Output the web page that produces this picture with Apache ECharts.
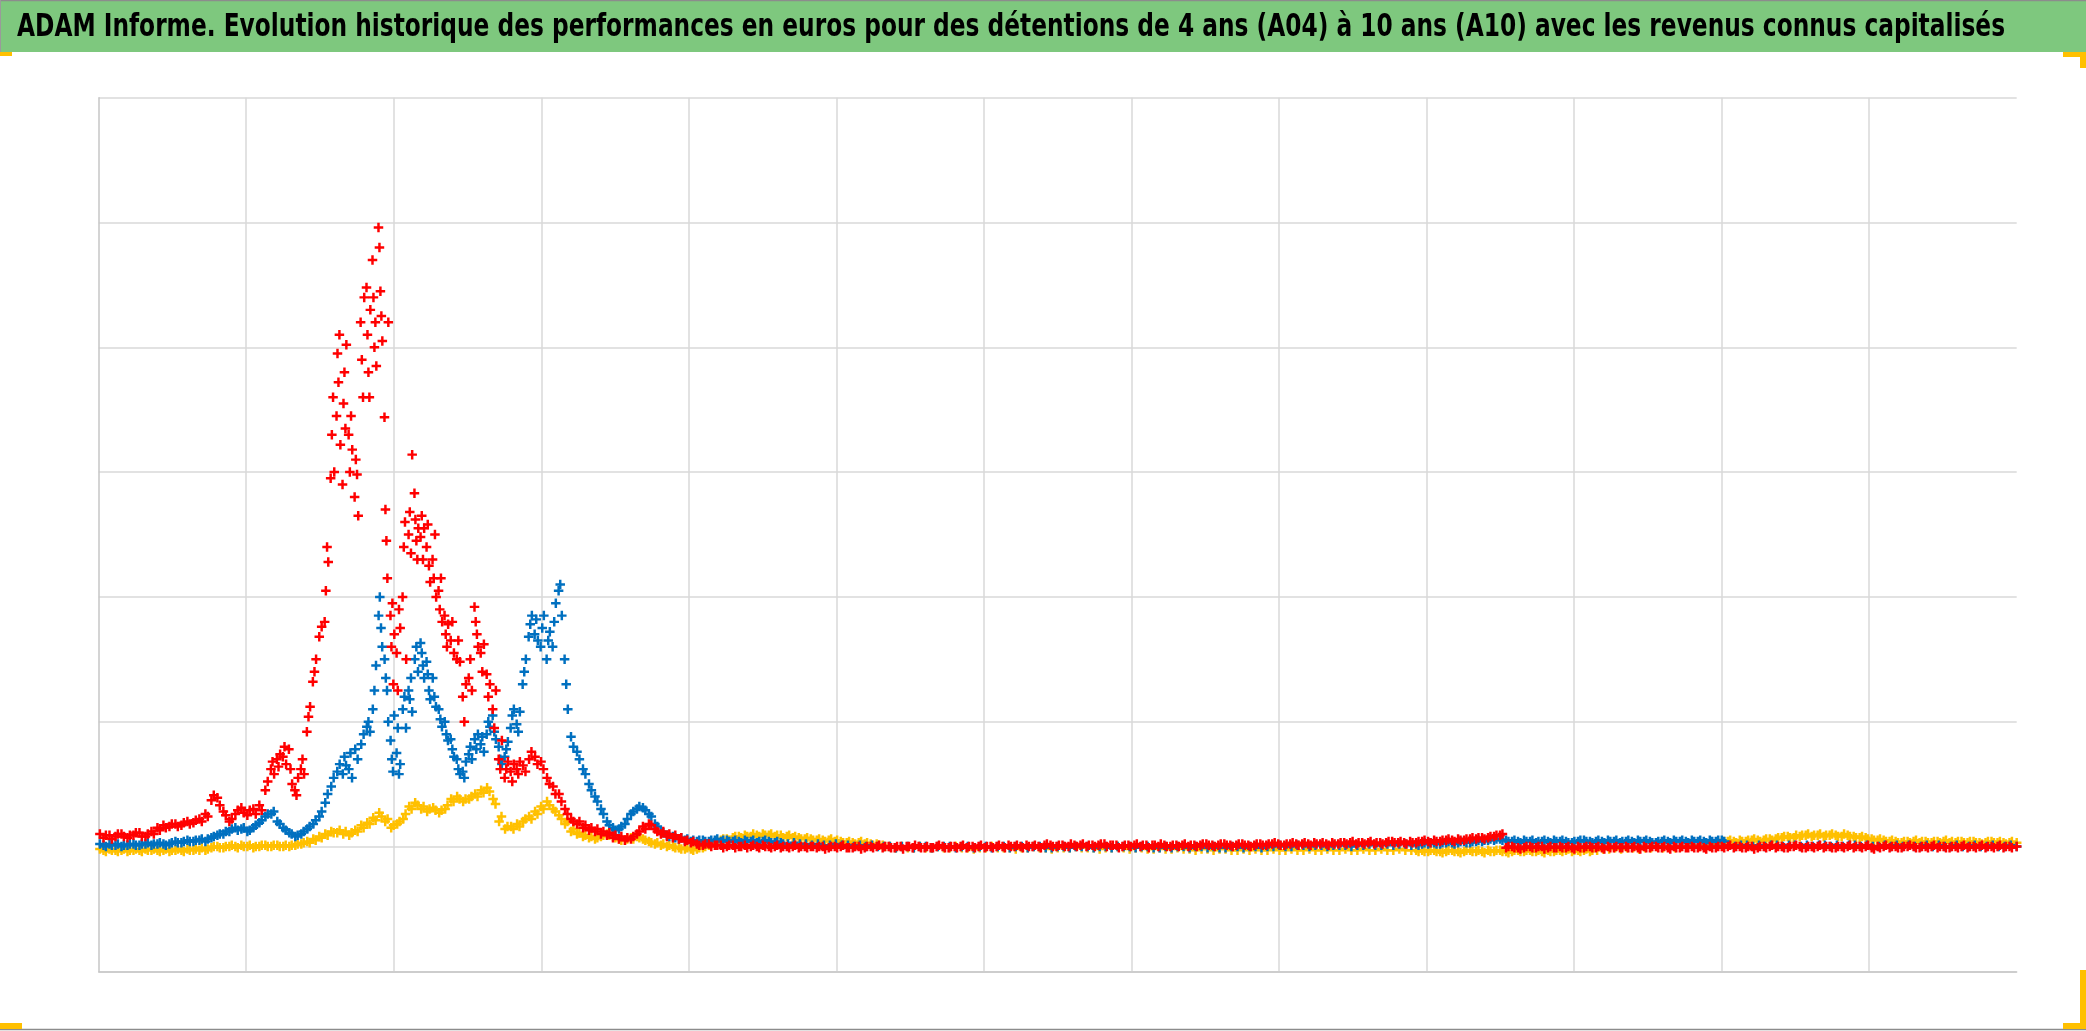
<!DOCTYPE html>
<html><head><meta charset="utf-8">
<script src="https://cdn.jsdelivr.net/npm/echarts@6/dist/echarts.min.js"></script>
<style>html,body{margin:0;padding:0;background:#fff;overflow:hidden}#c{width:2086px;height:1031px}</style>
</head><body><div id="c"></div>
<script>
const titleText = "ADAM Informe. Evolution historique des performances en euros pour des détentions de 4 ans (A04) à 10 ans (A10) avec les revenus connus capitalisés";
const seriesNames = ["A04", "A07", "A10"];
const yMin = -100, yMax = 600, yStep = 100;
const lastSample = 320;
const xGridSteps = 13;

// one entry per sample period; an inner list = several observations inside that period
const yellow = [
 [-3,-2],[-3,-4],[-2,-3],[-3,-4],[-3,-2],[-4,-3],[-3,-2],[-3,-4],[-2,-3],[-3,-2],
 [-3,-4],[-3,-2],[-4,-3],[-3,-2],[-3,-4],[-2,-3],[-3,-2],[-3,-1],[-3,-2],[-1,0],
 [0,-1],[-1,0],[0,1],[0,-1],[1,0],[0,1],[-1,0],[0,1],[1,0],[0,1],
 [1,0],[0,1],[0,1],[1,2],[2,3],[4,3],[6,5],[8,7],[10,9],[12,11],
 [11,13],[10,12],[9,11],[13,12],[17,15],[19,18],[23,21],[27,24],[20,22],[15,17],
 [18,20],[22,26],[32,30],[35,33],[30,32],[28,30],[31,29],[27,29],[30,33],[38,36],
 [40,38],[36,38],[38,40],[42,40],[45,43],[47,44],[38,34],[20,24],[14,16],[16,14],
 [18,16],[20,22],[24,22],[28,26],[32,30],[36,33],[30,28],[25,22],[18,20],[12,14],
 [10,11],[8,9],[7,8],[6,7],[8,9],[10,9],[8,7],[6,5],[5,6],[7,6],
 [8,7],[6,5],[4,3],[2,3],[1,2],[0,1],[0,-1],[-1,-2],[-2,-1],[-2,-3],
 [-2,-1],[-1,0],[1,2],[3,4],[5,6],[6,5],[7,8],[8,7],[9,8],[8,10],
 [9,8],[10,9],[9,10],[8,9],[9,7],[8,9],[7,8],[7,6],[6,7],[6,5],
 [5,6],[5,4],[5,6],[4,5],[4,3],[3,4],[3,2],[3,4],[2,3],[2,1],
 [2,1],[1,0],0,-1,0,-1,-1,0,-1,-1,
 0,-1,-1,0,-1,-1,-2,-1,-1,0,
 -1,-1,-1,-2,-1,-1,0,-1,-1,-2,
 -1,-1,-1,0,-1,-1,-1,-2,-1,-1,
 0,-1,-2,-1,-1,-2,-2,-1,-2,-2,
 -1,-2,-2,-3,-2,-2,-3,-2,-2,-3,
 -3,-2,-3,-2,-3,-3,-2,-3,-3,-2,
 -3,-3,-2,-3,-3,-2,-3,-3,-2,-3,
 -3,-2,-3,-3,-2,-3,-3,-2,-3,-3,
 [-3,-4],[-3,-4],[-4,-3],[-3,-4],[-4,-5],[-4,-3],[-3,-4],[-4,-5],[-4,-3],[-3,-4],
 [-4,-3],[-4,-5],[-3,-4],[-4,-3],[-3,-4],[-4,-5],[-4,-3],[-3,-4],[-4,-3],[-3,-4],
 [-4,-3],[-4,-5],[-3,-4],[-4,-3],[-3,-4],[-3,-2],[-4,-3],[-3,-4],[-3,-2],[-4,-3],
 -3,-2,-2,-1,-2,-1,-1,-2,-1,-1,
 0,-1,0,-1,0,0,1,0,1,1,
 [2,3],[3,4],[4,5],[4,3],[5,4],[4,5],[5,6],[5,4],[5,6],[6,5],
 [6,7],[7,8],[8,7],[7,9],[8,9],[9,10],[8,9],[9,10],[8,9],[9,10],
 [9,8],[8,10],[9,8],[8,7],[7,8],[7,6],[6,5],[5,6],[5,4],[4,5],
 [4,3],[3,4],[4,3],[4,5],[3,4],[4,3],[3,4],[4,3],[4,5],[3,4],
 [3,4],[4,3],[3,4],[4,3],[3,2],[3,4],[4,3],[3,4],[3,2],[3,4],
 3
];

const blue = [
 [1,2],[1,0],[2,1],[1,2],[0,1],[1,2],[2,1],[1,2],[2,3],[1,2],
 [2,3],[2,1],[2,3],[4,3],[3,4],[5,4],[4,5],[5,6],[4,6],[7,8],
 [9,10],[10,12],[12,14],[15,13],[14,15],[12,13],[15,17],[19,21],[24,26],[26,28],
 [20,18],[15,13],[11,10],[8,9],[10,12],[14,16],[18,21],[24,28],[35,42],[48,55],
 [60,66],[58,72,65],[62,75,55],[78,70],[82,90],[96,100,92],[110,125,145],[185,200,175,160],[150,135,125,100],[85,70,60,105],
 [75,95,58,66],[110,120,95],[125,118,135,108],[150,160,140],[163,155,145,135],[148,138,125,118],[135,120,112],[110,102,96],[100,90,85],[86,78,72],
 [70,62,58],[60,55,68],[74,80,70],[86,78,90],[82,88,76],[90,100,96],[105,92,86],[80,70,66],[72,78,84],[95,105,110],
 [98,92,108],[130,140,150],[168,178,185],[170,182,165],[160,175,185],[150,165,172],[160,180,195],[205,210,185],[150,130,110],[88,80],
 [76,70],[62,58],[50,45],[40,36],[30,26],[20,17],[15,13],[14,16],[18,22],[26,28],
 [30,32],[31,29],[26,24],[18,16],[12,11],[9,8],[8,7],[6,7],[5,6],[4,5],
 [4,5],[5,4],[4,5],[5,6],[4,5],[5,4],[4,5],[4,3],[5,4],[4,5],
 [3,4],[4,5],[4,3],[3,4],[3,2],2,3,2,2,1,
 2,1,1,2,1,1,0,1,0,1,
 0,0,0,-1,0,0,-1,0,0,-1,
 0,0,0,-1,0,0,-1,0,0,-1,
 0,0,-1,0,0,-1,0,0,-1,-1,
 0,0,-1,0,0,0,-1,0,0,-1,
 0,0,0,-1,0,0,-1,-1,0,-1,
 0,0,-1,0,0,-1,0,-1,-1,0,
 0,-1,0,0,-1,0,0,1,0,0,
 1,1,0,1,1,0,1,1,1,0,
 1,1,2,1,1,2,1,2,2,1,
 [2,1],[2,3],[2,3],[3,2],[2,3],[3,4],[3,2],[3,4],[4,3],[3,4],
 [4,5],[4,5],[5,6],[5,6],[6,5],[5,4],[4,5],[4,3],[5,4],[4,5],
 [3,4],[4,5],[4,3],[5,4],[4,5],[4,3],[3,4],[4,5],[5,4],[4,3],
 [4,5],[4,3],[5,4],[4,5],[3,4],[4,5],[4,3],[5,4],[4,5],[4,3],
 [3,4],[4,5],[4,3],[5,4],[4,5],[4,3],[5,4],[4,5],[4,3],[5,4],
 [4,5],[5,4],1,0,1,1,0,1,0,1,
 1,0,1,1,0,1,0,1,1,0,
 1,0,1,1,0,1,0,0,1,0,
 1,0,1,0,0,1,0,1,0,0,
 1,0,0,1,0,0,1,0,0,1,
 0
];

const red = [
 [8,10],[7,9],[9,6],[8,10],[10,8],[7,9],[9,11],[11,8],[8,10],[12,10],
 [15,13],[17,15],[16,18],[18,16],[17,19],[20,18],[19,21],[22,20],[26,24],[37,41],
 [39,33],[28,25],[20,22],[26,29],[31,27],[25,29],[30,26],[33,29],[45,52],[62,68,58],
 [70,64,74],[72,80,66],[78,62,50],[45,41,55],[62,70,58],[92,104,112],[132,140,150],[168,176],[180,205,240,228],[295,330,360,300],
 [345,395,372,410,322],[290,355,380,335,402],[330,300,345,318],[280,310,298,265],[420,390,360,440],[448,410,380,360,430],[470,440,400,420,385],[496,480,445,425,405],[344,270,245,215,420],[185,160,195,130,170],
 [155,125,190,175],[200,240,260,150],[250,268,235,314],[283,262,245,230,255],[248,265,230,255],[240,258,225,212],[230,215,250,200],[205,190,215,180],[185,170,160,178],[165,180,155],
 [150,165,148],[120,100,130],[135,150,125],[192,180,170,160],[155,140,162],[138,120,130],[110,95,125],[70,62,85],[55,62,68],[60,52,66],
 [62,58,68],[65,60],[70,76],[72,66],[68,62],[55,50],[48,42],[42,36],[30,26],[22,20],
 [18,20],[15,17],[13,15],[12,14],[10,12],[9,11],[7,9],[6,8],[5,7],[6,8],
 [10,12],[16,14],[18,17],[14,12],[10,12],[8,10],[7,9],[6,7],[4,5],[3,4],
 [2,1],[1,2],[2,0],[1,1],[1,-1],[0,1],[1,-1],[0,0],[1,-1],[0,1],
 [0,-1],[1,0],[0,-1],[0,1],[-1,0],[0,-1],[0,1],[-1,0],[0,-1],[0,0],
 [-1,0],[0,-2],[-1,0],[0,-1],[0,1],[-1,-1],[-1,0],[0,-2],[-1,0],[0,-1],
 [0,1],[-1,0],[0,-1],[-1,0],[0,-2],[0,0],[-1,1],[0,-1],[-1,0],[-1,-1],
 [0,1],[0,-1],[-1,0],[0,-1],[0,1],[-1,0],[0,-1],[0,1],[-1,0],[0,-1],
 [0,1],[0,-1],[1,0],[0,1],[0,-1],[1,0],[0,1],[0,-1],[1,2],[1,0],
 [0,1],[1,0],[0,2],[1,0],[1,2],[0,1],[1,0],[1,2],[2,0],[1,1],
 [1,-1],[0,1],[1,0],[1,2],[0,1],[1,-1],[1,1],[0,2],[1,0],[0,1],
 [1,0],[1,2],[0,1],[1,0],[1,2],[2,1],[1,0],[1,2],[2,1],[1,0],
 [1,2],[2,1],[1,0],[1,2],[2,1],[1,2],[2,3],[2,1],[1,2],[2,3],
 [2,1],[2,3],[2,1],[3,2],[2,3],[2,1],[3,2],[2,3],[3,2],[3,4],
 [2,3],[3,2],[3,4],[2,3],[3,2],[3,4],[4,3],[3,4],[3,2],[4,3],
 [3,4],[4,5],[4,3],[5,4],[4,5],[5,6],[5,4],[6,5],[5,6],[6,7],
 [6,7],[7,6],[7,8],[8,9],[9,10],[-1,0],[0,-1],[-1,-2],[-1,0],[0,-1],
 [-1,0],[0,-2],[-1,0],[-1,-1],[0,-1],[-1,0],[-1,-2],[0,-1],[-1,0],[0,-1],
 [-1,0],[-1,-2],[0,-1],[-1,0],[-1,-1],[0,-1],[-1,0],[-1,-2],[0,-1],[-1,0],
 [0,-1],[-1,0],[-1,-2],[0,-1],[-1,0],[-1,-1],[0,-1],[-1,0],[-1,-2],[0,-1],
 [-1,0],[0,-1],[0,1],[-1,0],[0,-1],[-1,0],[0,-2],[-1,0],[0,-1],[0,1],
 [-1,0],[0,-1],[-1,0],[0,1],[0,-1],[-1,0],[0,-1],[0,1],[-1,0],[0,-1],
 [-1,0],[0,-1],[0,1],[-1,0],[0,-1],[0,1],[-1,-2],[0,-1],[0,1],[-1,0],
 [0,-1],[-1,0],[0,1],[0,-1],[-1,0],[0,-1],[0,1],[-1,0],[0,-1],[-1,0],
 [0,-1],[0,1],[-1,0],[0,-1],[0,1],[-1,0],[0,-1],[0,1],[-1,0],[0,-1],
 0
];

const colors = ["#FFC000", "#0070C0", "#FF0000"];

function toPoints(arr) {
  const pts = [];
  arr.forEach((v, i) => {
    if (Array.isArray(v)) {
      const n = v.length;
      v.forEach((y, j) => pts.push([i + ((j + 0.5) / n - 0.5) * 0.8, y]));
    } else {
      pts.push([i, v]);
    }
  });
  return pts;
}

const plusPath = 'path://M3.7,0H6.3V3.7H10V6.3H6.3V10H3.7V6.3H0V3.7H3.7Z';

// title: tall bold face, horizontally fitted to the banner text width
const fam = '"DejaVu Sans Condensed", "Liberation Sans Narrow", "DejaVu Sans", sans-serif';
const titleSize = 32;
const mctx = document.createElement('canvas').getContext('2d');
mctx.font = 'bold ' + titleSize + 'px ' + fam;
const tw = mctx.measureText(titleText).width;
const titleScale = 1988 / tw;

const chart = echarts.init(document.getElementById('c'), null, {renderer: 'canvas'});
const W = 2086, H = 1031;
chart.setOption({
  animation: false,
  backgroundColor: '#ffffff',
  grid: {left: 98.7, right: W - 2016.7, top: 97.7, bottom: H - 971.3, containLabel: false},
  xAxis: {
    type: 'value', min: 0, max: lastSample, interval: lastSample / xGridSteps,
    axisLine: {show: true, onZero: false, lineStyle: {color: '#c6c6c6', width: 1.5}},
    axisTick: {show: false}, axisLabel: {show: false},
    splitLine: {show: true, showMinLine: false, showMaxLine: false, lineStyle: {color: '#d9d9d9', width: 1.5}}
  },
  yAxis: {
    type: 'value', min: yMin, max: yMax, interval: yStep,
    axisLine: {show: true, lineStyle: {color: '#c6c6c6', width: 1.5}},
    axisTick: {show: false}, axisLabel: {show: false},
    splitLine: {show: true, lineStyle: {color: '#d9d9d9', width: 1.5}}
  },
  series: [yellow, blue, red].map((arr, k) => ({
    name: seriesNames[k],
    type: 'scatter',
    data: toPoints(arr),
    symbol: plusPath,
    symbolSize: 9.5,
    itemStyle: {color: colors[k], opacity: 1},
    large: false,
    silent: true
  })),
  graphic: [
    {type: 'rect', shape: {x: 0, y: 0, width: W, height: 52}, style: {fill: '#7ec87e'}, z: 1},
    {type: 'line', shape: {x1: 0, y1: 0.5, x2: W, y2: 0.5}, style: {stroke: '#8c8c8c', lineWidth: 1.5}, z: 2},
    {type: 'line', shape: {x1: 0.5, y1: 0, x2: 0.5, y2: 52}, style: {stroke: '#9a9a9a', lineWidth: 1}, z: 2},
    {type: 'text', x: 17, y: 28, scaleX: titleScale, style: {text: titleText, font: 'bold ' + titleSize + 'px ' + fam, fill: '#000000', verticalAlign: 'middle', align: 'left'}, z: 3},
    {type: 'line', shape: {x1: 0, y1: 1029.5, x2: W, y2: 1029.5}, style: {stroke: '#8c8c8c', lineWidth: 1.5}, z: 2},
    {type: 'rect', shape: {x: 0, y: 52, width: 12, height: 4}, style: {fill: '#FFC000'}, z: 3},
    {type: 'rect', shape: {x: 2063, y: 52, width: 23, height: 5}, style: {fill: '#FFC000'}, z: 3},
    {type: 'rect', shape: {x: 2080, y: 52, width: 6, height: 16}, style: {fill: '#FFC000'}, z: 3},
    {type: 'rect', shape: {x: 2080, y: 970, width: 6, height: 59}, style: {fill: '#FFC000'}, z: 3},
    {type: 'rect', shape: {x: 2063, y: 1023, width: 23, height: 6}, style: {fill: '#FFC000'}, z: 3},
    {type: 'rect', shape: {x: 0, y: 1023, width: 22, height: 6}, style: {fill: '#FFC000'}, z: 3}
  ]
});
</script>
</body></html>
